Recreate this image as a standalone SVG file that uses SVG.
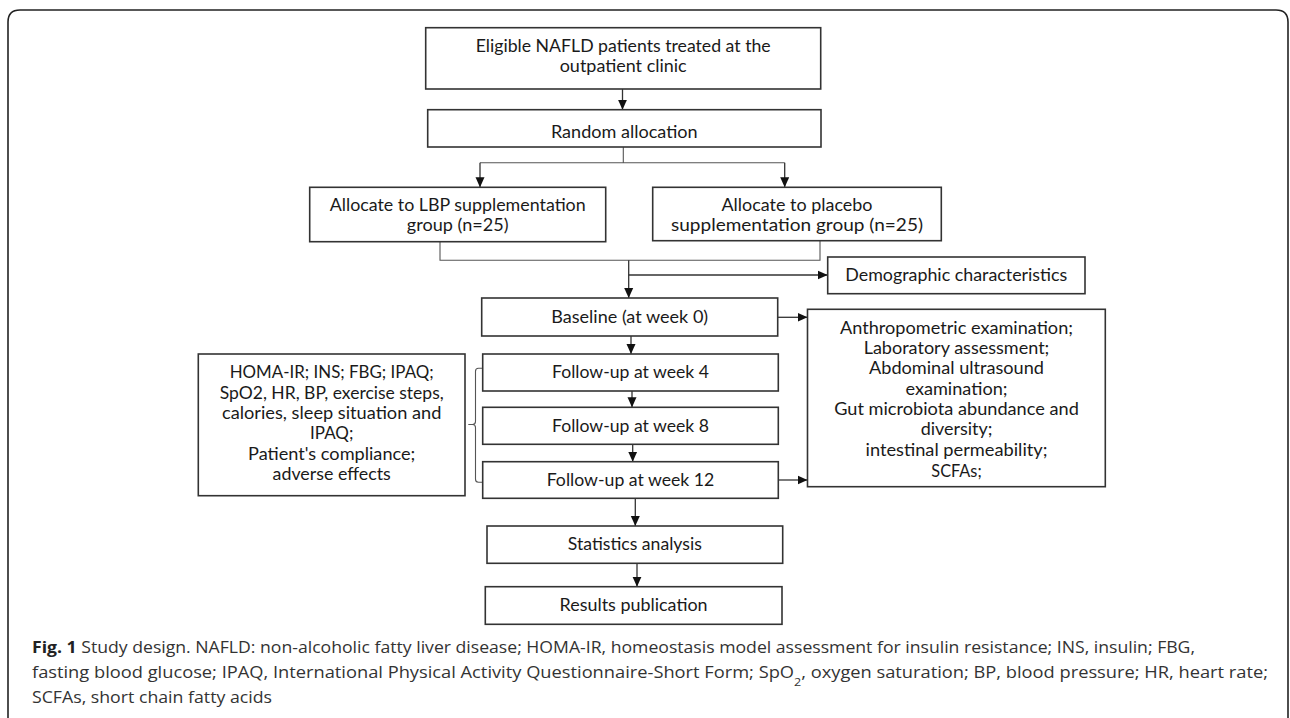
<svg xmlns="http://www.w3.org/2000/svg" width="1290" height="718" viewBox="0 0 1290 718">
<defs>
<style>
.frame{fill:none;stroke:#222;stroke-width:1.6}
.box{fill:#fff;stroke:#333;stroke-width:1.6}
.ln{fill:none;stroke:#333;stroke-width:1.3}
.thin{fill:none;stroke:#555;stroke-width:1.1}
.t{font-family:Lato,"Open Sans","Liberation Sans",sans-serif;font-size:18px;fill:#1a1a1a;text-anchor:middle}
.t2{font-size:17px}
.cap{font-family:"Open Sans","Liberation Sans",sans-serif;font-size:16px;fill:#333}
</style>
<marker id="ah" markerUnits="userSpaceOnUse" markerWidth="10" markerHeight="10" viewBox="0 0 10 9" refX="10" refY="4.5" orient="auto">
<path d="M0,0 L10,4.5 L0,9 z" fill="#111"/>
</marker>
</defs>
<rect width="1290" height="718" fill="#fff"/>
<path class="frame" d="M8,718 V22 Q8,10 20,10 H1276 Q1288,10 1288,22 V718"/>

<g id="connectors">
<path class="ln" d="M622.5,89 V109.7" marker-end="url(#ah)"/>
<path class="thin" d="M623.3,147 V162.7 M480,162.7 H784.7"/>
<path class="ln" d="M480,162.7 V187.3" marker-end="url(#ah)"/>
<path class="ln" d="M784.7,162.7 V187.3" marker-end="url(#ah)"/>
<path class="thin" d="M440,241.7 V260.3 H820 V240.7"/>
<path class="ln" d="M628.7,260.3 V298" marker-end="url(#ah)"/>
<path class="ln" d="M628.7,275 H827.7" marker-end="url(#ah)"/>
<path class="ln" d="M777.7,317.3 H807.5" marker-end="url(#ah)"/>
<path class="ln" d="M631,336 V354" marker-end="url(#ah)"/>
<path class="ln" d="M632,391 V407.3" marker-end="url(#ah)"/>
<path class="ln" d="M632.7,444.3 V461.7" marker-end="url(#ah)"/>
<path class="ln" d="M778.3,480 H807.5" marker-end="url(#ah)"/>
<path class="ln" d="M635.3,498.3 V526" marker-end="url(#ah)"/>
<path class="ln" d="M637,563.3 V586.7" marker-end="url(#ah)"/>
<path class="thin" d="M482.7,368.3 H478.5 Q475.5,368.3 475.5,371.3 V421.5 Q475.5,424.5 472.5,424.5 H468.3 M472.5,424.5 Q475.5,424.5 475.5,427.5 V479.3 Q475.5,482.3 478.5,482.3 H482.7"/>
</g>

<g id="eligible">
<rect class="box" x="425.7" y="27.7" width="395" height="61.3"/>
<text class="t" x="623.2" y="51.7" textLength="295" lengthAdjust="spacingAndGlyphs">Eligible NAFLD patients treated at the</text>
<text class="t" x="623.2" y="71.7" textLength="127" lengthAdjust="spacingAndGlyphs">outpatient clinic</text>
</g>

<g id="random">
<rect class="box" x="427.7" y="109.7" width="393.3" height="37.3"/>
<text class="t" x="624.3" y="138" textLength="146.7" lengthAdjust="spacingAndGlyphs">Random allocation</text>
</g>

<g id="lbp">
<rect class="box" x="309.7" y="187.3" width="296" height="54.4"/>
<text class="t t2" x="457.7" y="210.5" textLength="256" lengthAdjust="spacingAndGlyphs">Allocate to LBP supplementation</text>
<text class="t t2" x="457.7" y="230.5" textLength="101.7" lengthAdjust="spacingAndGlyphs">group (n=25)</text>
</g>

<g id="placebo">
<rect class="box" x="652.7" y="187.3" width="288.6" height="53.4"/>
<text class="t t2" x="797" y="210.5" textLength="151" lengthAdjust="spacingAndGlyphs">Allocate to placebo</text>
<text class="t t2" x="797" y="230.5" textLength="252" lengthAdjust="spacingAndGlyphs">supplementation group (n=25)</text>
</g>

<g id="demographic">
<rect class="box" x="827.7" y="257" width="257.3" height="36.7"/>
<text class="t" x="956.3" y="281" textLength="222" lengthAdjust="spacingAndGlyphs">Demographic characteristics</text>
</g>

<g id="baseline">
<rect class="box" x="481.7" y="298" width="296" height="38"/>
<text class="t" x="629.7" y="322.7" textLength="157" lengthAdjust="spacingAndGlyphs">Baseline (at week 0)</text>
</g>

<g id="measures">
<rect class="box" x="807.5" y="309.3" width="297.8" height="177.4"/>
<text class="t" x="956.5" y="333.7" textLength="233" lengthAdjust="spacingAndGlyphs">Anthropometric examination;</text>
<text class="t" x="956.5" y="354.3" textLength="185.7" lengthAdjust="spacingAndGlyphs">Laboratory assessment;</text>
<text class="t" x="956.5" y="374.3" textLength="175" lengthAdjust="spacingAndGlyphs">Abdominal ultrasound</text>
<text class="t" x="956.5" y="395" textLength="102" lengthAdjust="spacingAndGlyphs">examination;</text>
<text class="t" x="956.5" y="415" textLength="244.7" lengthAdjust="spacingAndGlyphs">Gut microbiota abundance and</text>
<text class="t" x="956.5" y="435.3" textLength="71.7" lengthAdjust="spacingAndGlyphs">diversity;</text>
<text class="t" x="956.5" y="456" textLength="182" lengthAdjust="spacingAndGlyphs">intestinal permeability;</text>
<text class="t" x="956.5" y="477" textLength="50.3" lengthAdjust="spacingAndGlyphs">SCFAs;</text>
</g>

<g id="fu4">
<rect class="box" x="482.7" y="354" width="295.6" height="37"/>
<text class="t" x="630.5" y="377.7" textLength="157" lengthAdjust="spacingAndGlyphs">Follow-up at week 4</text>
</g>

<g id="fu8">
<rect class="box" x="482.7" y="407.3" width="295.6" height="37"/>
<text class="t" x="630.5" y="431.7" textLength="157" lengthAdjust="spacingAndGlyphs">Follow-up at week 8</text>
</g>

<g id="fu12">
<rect class="box" x="482.7" y="461.7" width="295.6" height="36.6"/>
<text class="t" x="630.5" y="486" textLength="167.7" lengthAdjust="spacingAndGlyphs">Follow-up at week 12</text>
</g>

<g id="followup-measures">
<rect class="box" x="198.3" y="354" width="266.7" height="141.7"/>
<text class="t" x="331.7" y="378.3" textLength="204" lengthAdjust="spacingAndGlyphs">HOMA-IR; INS; FBG; IPAQ;</text>
<text class="t" x="331.7" y="398.7" textLength="224" lengthAdjust="spacingAndGlyphs">SpO2, HR, BP, exercise steps,</text>
<text class="t" x="331.7" y="418.7" textLength="219.3" lengthAdjust="spacingAndGlyphs">calories, sleep situation and</text>
<text class="t" x="331.7" y="439.3" textLength="43.3" lengthAdjust="spacingAndGlyphs">IPAQ;</text>
<text class="t" x="331.7" y="460" textLength="167.3" lengthAdjust="spacingAndGlyphs">Patient's compliance;</text>
<text class="t" x="331.7" y="480.3" textLength="118.3" lengthAdjust="spacingAndGlyphs">adverse effects</text>
</g>

<g id="statistics">
<rect class="box" x="487" y="526" width="295.7" height="37.3"/>
<text class="t" x="634.8" y="550" textLength="134" lengthAdjust="spacingAndGlyphs">Statistics analysis</text>
</g>

<g id="results">
<rect class="box" x="485.3" y="586.7" width="296.7" height="37.6"/>
<text class="t" x="633.6" y="610.7" textLength="148" lengthAdjust="spacingAndGlyphs">Results publication</text>
</g>

<g id="caption">
<text class="cap" x="32" y="652.5" textLength="1163" lengthAdjust="spacingAndGlyphs"><tspan font-weight="bold" fill="#222">Fig. 1</tspan> Study design. NAFLD: non-alcoholic fatty liver disease; HOMA-IR, homeostasis model assessment for insulin resistance; INS, insulin; FBG,</text>
<text class="cap" x="32" y="677.5" textLength="1236" lengthAdjust="spacingAndGlyphs">fasting blood glucose; IPAQ, International Physical Activity Questionnaire-Short Form; SpO<tspan font-size="11" baseline-shift="sub">2</tspan>, oxygen saturation; BP, blood pressure; HR, heart rate;</text>
<text class="cap" x="32" y="702.5" textLength="240" lengthAdjust="spacingAndGlyphs">SCFAs, short chain fatty acids</text>
</g>
</svg>
